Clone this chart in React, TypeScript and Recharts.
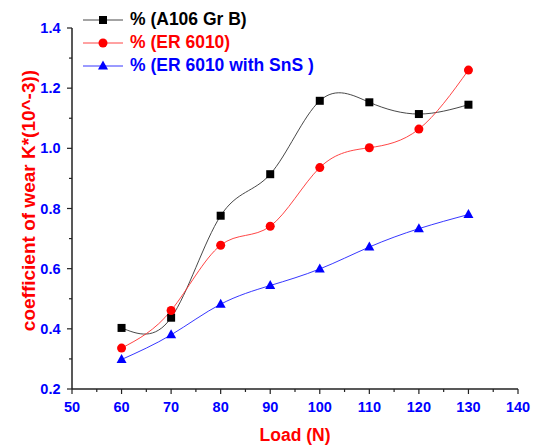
import { LineChart, Line, XAxis, YAxis, Legend } from "recharts";

const font = "'Liberation Sans', Arial, sans-serif";

// load (N)
const loads = [60, 70, 80, 90, 100, 110, 120, 130];
// coefficient of wear K*(10^-3)
const a106GrB = [0.403, 0.437, 0.776, 0.914, 1.158, 1.153, 1.114, 1.145];
const er6010 = [0.336, 0.461, 0.678, 0.741, 0.936, 1.002, 1.064, 1.26];
const er6010SnS = [0.298, 0.38, 0.482, 0.544, 0.599, 0.672, 0.733, 0.78];

const xTicks = [50, 55, 60, 65, 70, 75, 80, 85, 90, 95, 100, 105, 110, 115, 120, 125, 130, 135, 140];
const yTicks = [0.2, 0.3, 0.4, 0.5, 0.6, 0.7, 0.8, 0.9, 1.0, 1.1, 1.2, 1.3, 1.4];

const series = [
  { key: "a106", name: "% (A106 Gr B)", color: "#000000", line: "#333333", shape: "square" },
  { key: "er", name: "% (ER 6010)", color: "#ff0000", line: "#ff3030", shape: "circle" },
  { key: "sns", name: "% (ER 6010 with SnS )", color: "#0000ff", line: "#2020ff", shape: "triangle" },
];

const data = loads.map((load, i) => ({
  load,
  a106: a106GrB[i],
  er: er6010[i],
  sns: er6010SnS[i],
}));

function marker(shape: string, cx: number, cy: number, color: string) {
  if (shape === "square") return <rect x={cx - 4} y={cy - 4} width={8} height={8} fill={color} />;
  if (shape === "circle") return <circle cx={cx} cy={cy} r={4.5} fill={color} />;
  return <polygon points={`${cx},${cy - 5.5} ${cx - 5},${cy + 3.5} ${cx + 5},${cy + 3.5}`} fill={color} />;
}

const makeDot = (shape: string, color: string) => (p: any) => {
  if (p.cx == null || p.cy == null) return <g key={p.key} />;
  return <g key={p.key}>{marker(shape, p.cx, p.cy, color)}</g>;
};

const XTick = (p: any) => {
  const v = p.payload.value;
  const major = v % 10 === 0;
  return (
    <g>
      <line x1={p.x} x2={p.x} y1={p.y} y2={p.y + (major ? 5 : 3)} stroke="#222" strokeWidth={1.2} />
      {major && (
        <text x={p.x} y={p.y + 23} textAnchor="middle" fill="#0000ff" fontSize={14.5} fontWeight="bold" fontFamily={font}>
          {v}
        </text>
      )}
    </g>
  );
};

const YTick = (p: any) => {
  const v = p.payload.value;
  const major = Math.round(v * 10) % 2 === 0;
  return (
    <g>
      <line x1={p.x} x2={p.x - (major ? 5 : 3)} y1={p.y} y2={p.y} stroke="#222" strokeWidth={1.2} />
      {major && (
        <text x={p.x - 11.5} y={p.y + 5} textAnchor="end" fill="#0000ff" fontSize={14.5} fontWeight="bold" fontFamily={font}>
          {v.toFixed(1)}
        </text>
      )}
    </g>
  );
};

const YLabel = (p: any) => {
  const vb = p.viewBox;
  const cx = 35;
  const cy = vb.y + vb.height / 2 - 8;
  return (
    <text
      x={cx}
      y={cy}
      transform={`rotate(-90, ${cx}, ${cy})`}
      textAnchor="middle"
      fill="#ff0000"
      fontSize={19}
      fontWeight="bold"
      fontFamily={font}
    >
      coefficient of wear K*(10^-3))
    </text>
  );
};

const renderLegend = () => (
  <div style={{ fontFamily: font, fontWeight: "bold", fontSize: 17.5 }}>
    {series.map((s) => (
      <div key={s.key} style={{ display: "flex", alignItems: "center", height: 23, color: s.color, whiteSpace: "nowrap" }}>
        <svg width={40} height={14} style={{ display: "block" }}>
          <line x1={0} x2={40} y1={7} y2={7} stroke={s.line} strokeWidth={0.9} />
          {marker(s.shape, 20, 7, s.color)}
        </svg>
        <span style={{ marginLeft: 7 }}>{s.name}</span>
      </div>
    ))}
  </div>
);

export default function App() {
  return (
    <div style={{ position: "absolute", left: 0, top: 0, background: "#fff" }}>
      <LineChart width={536} height={446} data={data} margin={{ top: 28, right: 18, bottom: 0, left: 0 }}>
        <XAxis
          dataKey="load"
          type="number"
          domain={[50, 140]}
          ticks={xTicks}
          interval={0}
          tickSize={0}
          tickMargin={0}
          tickLine={false}
          tick={<XTick />}
          height={57}
          axisLine={{ stroke: "#222", strokeWidth: 1.5 }}
          label={{ value: "Load (N)", position: "insideBottom", offset: 5, fill: "#ff0000", fontSize: 17.5, fontWeight: "bold", fontFamily: font }}
        />
        <YAxis
          type="number"
          domain={[0.2, 1.4]}
          ticks={yTicks}
          interval={0}
          tickSize={0}
          tickMargin={0}
          tickLine={false}
          tick={<YTick />}
          width={72}
          axisLine={{ stroke: "#222", strokeWidth: 1.5 }}
          label={YLabel}
        />
        <Legend
          layout="vertical"
          align="center"
          verticalAlign="middle"
          wrapperStyle={{ left: 83, top: 8, width: "auto" }}
          content={renderLegend}
        />
        {series.map((s) => (
          <Line
            key={s.key}
            type="natural"
            dataKey={s.key}
            name={s.name}
            stroke={s.line}
            strokeWidth={0.9}
            dot={makeDot(s.shape, s.color)}
            activeDot={false}
            isAnimationActive={false}
          />
        ))}
      </LineChart>
    </div>
  );
}
